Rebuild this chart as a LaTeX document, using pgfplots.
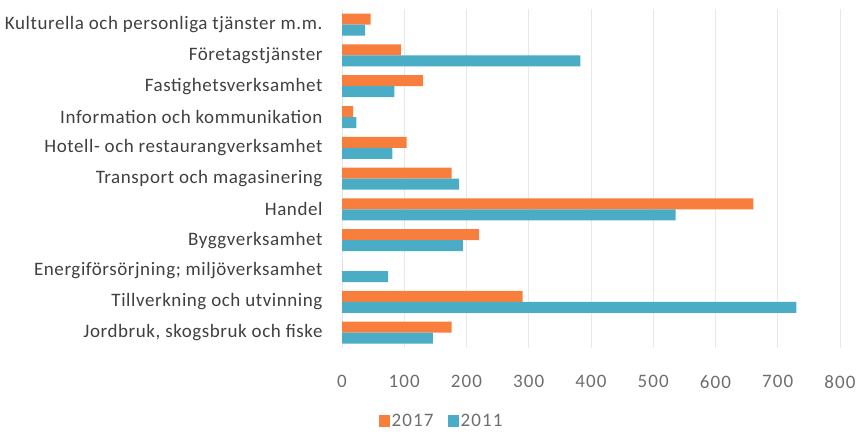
\documentclass[border=0pt]{standalone}
\usepackage{pgfplots}
\pgfplotsset{compat=1.18}
\usepackage{fontspec}
\setmainfont{Carlito}
\newfontfamily\lblfont[LetterSpace=3]{Carlito}
\newfontfamily\tickfont[LetterSpace=6]{Carlito}
\definecolor{cOrange}{RGB}{247,126,60}
\definecolor{cBlue}{RGB}{75,172,198}
\definecolor{cGrid}{RGB}{232,232,232}
\definecolor{cText}{RGB}{64,64,64}
\definecolor{cTick}{RGB}{110,110,110}
\begin{document}
\begin{tikzpicture}
\path[use as bounding box] (0,0) rectangle (858pt,431pt);
\begin{axis}[
  at={(342pt,83pt)}, anchor=south west,
  scale only axis,
  width=498pt, height=338.8pt,
  xbar, bar width=11pt,
  xmin=0, xmax=800,
  ymin=-0.5, ymax=10.5,
  y dir=reverse,
  axis line style={draw=none},
  xtick={0,100,...,800},
  ytick={0,...,10},
  yticklabels={Kulturella och personliga tjänster m.m.,Företagstjänster,Fastighetsverksamhet,Information och kommunikation,Hotell- och restaurangverksamhet,Transport och magasinering,Handel,Byggverksamhet,Energiförsörjning; miljöverksamhet,Tillverkning och utvinning,{Jordbruk, skogsbruk och fiske}},
  major tick length=0pt,
  xmajorgrids, grid style={cGrid, line width=0.6pt},
  /pgf/number format/assume math mode=true,
  xticklabel style={font=\tickfont\fontsize{19}{22}\selectfont, text=cTick, yshift=-24pt},
  yticklabel style={font=\lblfont\fontsize{19}{22}\selectfont, text=cText, xshift=-16pt},
  legend style={at={(0.200,-0.216)}, anchor=center, draw=none, legend columns=2,
    font=\tickfont\fontsize{19}{22}\selectfont, text=cTick,
    /tikz/every even column/.append style={column sep=12pt}},
  legend image code/.code={\fill[#1] (0pt,-6pt) rectangle (11pt,6pt);},
]
\addplot[draw=none, fill=cOrange, bar shift=5.5pt] coordinates {
(46,0) (95,1) (130,2) (18,3) (104,4) (176,5) (661,6) (220,7) (0,8) (290,9) (176,10)};
\addplot[draw=none, fill=cBlue, bar shift=-5.5pt] coordinates {
(37,0) (383,1) (84,2) (23,3) (81,4) (188,5) (536,6) (194,7) (74,8) (730,9) (146,10)};
\legend{2017,2011}
\end{axis}
\end{tikzpicture}
\end{document}
